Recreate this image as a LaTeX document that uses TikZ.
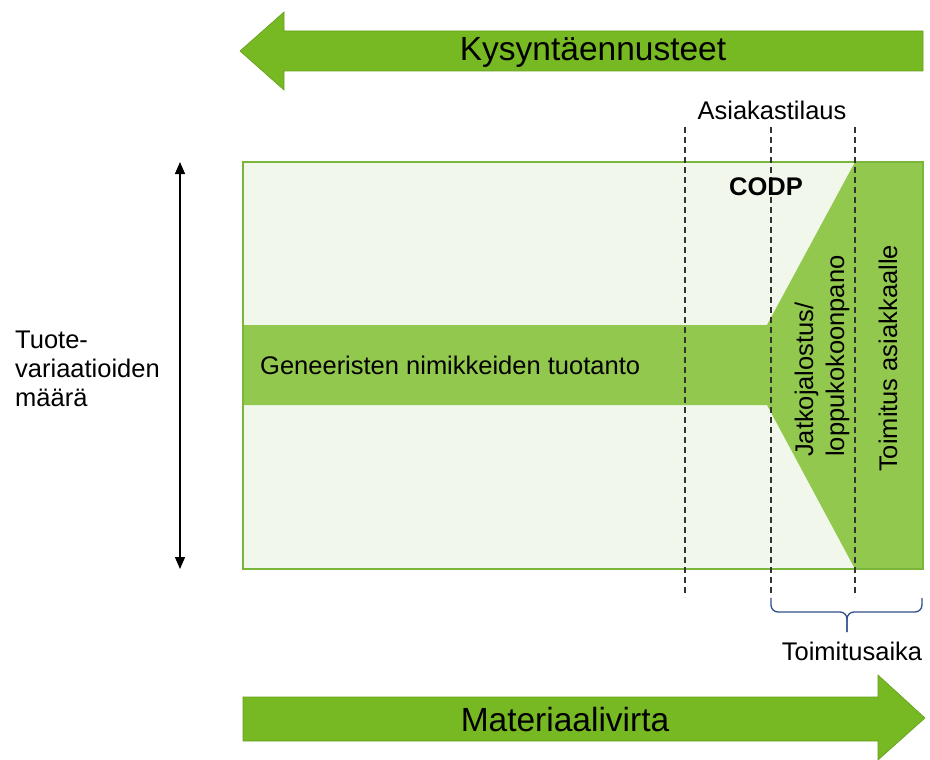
\documentclass[tikz,border=0pt]{standalone}
\usepackage{fontspec}
\setmainfont{Liberation Sans}
\usetikzlibrary{arrows.meta}
\definecolor{arrowgreen}{RGB}{118,185,34}
\definecolor{bandgreen}{RGB}{146,200,78}
\definecolor{palegreen}{RGB}{241,247,234}
\definecolor{rimgreen}{RGB}{122,182,60}
\definecolor{bracetone}{RGB}{47,78,140}
\tikzset{
  bigarrow/.style={fill=arrowgreen, draw=arrowgreen!85!black, line width=0.6pt},
  bigtext/.style={font=\fontsize{33.5}{36}\selectfont, inner sep=0pt},
  label/.style={font=\fontsize{25.5}{29}\selectfont, inner sep=0pt},
  vlabel/.style={font=\fontsize{25.5}{31}\selectfont, inner sep=0pt, rotate=90, align=left, anchor=west},
  guide/.style={draw=black!80, line width=1.1pt, dash pattern=on 6pt off 4pt},
  bracepath/.style={draw=bracetone, line width=1.3pt, rounded corners=7pt},
  axisarrow/.style={draw=black, line width=1.4pt, {Triangle[length=12pt,width=10pt]}-{Triangle[length=12pt,width=10pt]}}
}
\begin{document}
\begin{tikzpicture}[x=1pt, y=-1pt]
\useasboundingbox (0,0) rectangle (930,760);

% demand forecasts arrow (pointing left)
\path[bigarrow] (240,51) -- (284,12) -- (284,31) -- (923,31) -- (923,71)
  -- (284,71) -- (284,90) -- cycle;
\node[bigtext] (forecast) at (593,52) {Kysyntäennusteet};

% material flow arrow (pointing right)
\path[bigarrow] (243,697) -- (878,697) -- (878,675) -- (925,718)
  -- (878,760) -- (878,741) -- (243,741) -- cycle;
\node[bigtext] (flow) at (565,720) {Materiaalivirta};

% production area
\coordinate (boxNW) at (243,162);
\coordinate (boxSE) at (923,569);
\fill[palegreen] (boxNW) rectangle (boxSE);
\fill[bandgreen] (243,325) -- (767,325) -- (855,162) -- (923,162) -- (923,569)
  -- (855,569) -- (767,405) -- (243,405) -- cycle;
\draw[rimgreen, line width=1.3pt] (boxNW) rectangle (boxSE);

% decoupling guides
\foreach \gx/\gn in {685/a, 771/b, 855/c} {
  \coordinate (top\gn) at (\gx,127);
  \coordinate (bot\gn) at (\gx,597);
  \draw[guide] (top\gn) -- (bot\gn);
}

\node[label] (order) at (772,110) {Asiakastilaus};
\node[label, font=\bfseries\fontsize{25.5}{29}\selectfont] (codp) at (766,187) {CODP};
\node[label, anchor=west] (generic) at (260,365) {Geneeristen nimikkeiden tuotanto};
\node[vlabel] (assembly) at (822,457) {Jatkojalostus/\\loppukokoonpano};
\node[vlabel] (delivery) at (888,472) {Toimitus asiakkaalle};

% variant axis
\coordinate (axtop) at (180,162);
\coordinate (axbot) at (180,569);
\draw[axisarrow] (axtop) -- (axbot);
\node[label, align=left, anchor=north west] (variants) at (15,331)
  {Tuote-\\variaatioiden\\määrä};

% delivery time brace
\coordinate (brL) at (771,598);
\coordinate (brR) at (922,598);
\coordinate (brTip) at (847,632);
\draw[bracepath] (brL) |- (847,612) -- (brTip);
\draw[bracepath] (brR) |- (847,612) -- (brTip);
\node[label] (leadtime) at (852,651) {Toimitusaika};
\end{tikzpicture}
\end{document}
